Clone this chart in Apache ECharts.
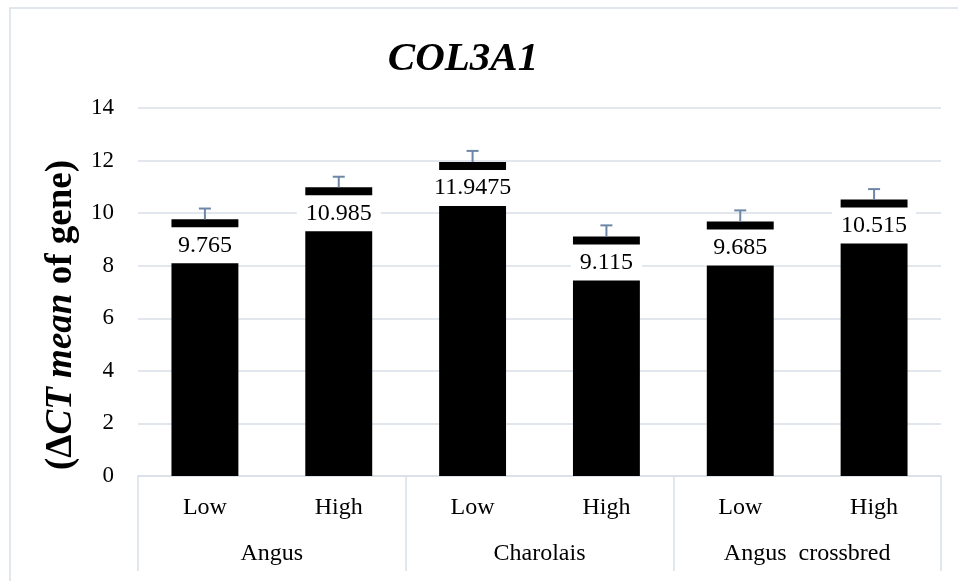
<!DOCTYPE html>
<html>
<head>
<meta charset="utf-8">
<script src="https://cdn.jsdelivr.net/npm/echarts@6/dist/echarts.min.js"></script>
<style>html,body{margin:0;padding:0;background:#fff;}#c{width:958px;height:581px;}</style>
</head>
<body>
<div id="c"></div>
<script>
var groups = ['Angus', 'Charolais', 'Angus  crossbred'];
var levels = ['Low', 'High', 'Low', 'High', 'Low', 'High'];
var means = [9.765, 10.985, 11.9475, 9.115, 9.685, 10.515];
var errors = [0.41, 0.40, 0.42, 0.42, 0.42, 0.40];
var yTicks = [0, 2, 4, 6, 8, 10, 12, 14];

var FONT = '"Liberation Serif", "Times New Roman", serif';
var GRID = '#d9dee7';
var ERR = '#6f87a6';

var chart = echarts.init(document.getElementById('c'), null, {renderer: 'canvas'});
chart.setOption({
  animation: false,
  backgroundColor: '#fff',
  graphic: [
    {type: 'rect', shape: {x: 10, y: 8, width: 980, height: 620}, style: {fill: 'none', stroke: GRID, lineWidth: 1.5}, silent: true},
    {type: 'text', x: 463, y: 59, style: {text: 'COL3A1', font: 'italic bold 41px ' + FONT, fill: '#000', textAlign: 'center', textVerticalAlign: 'middle'}}
  ],
  grid: {left: 138, right: 17, top: 108, bottom: 105, containLabel: false},
  xAxis: [
    {
      type: 'category', data: levels, position: 'bottom',
      axisLine: {show: true, lineStyle: {color: GRID, width: 1.5}},
      axisTick: {show: false},
      axisLabel: {interval: 0, margin: 20, fontFamily: FONT, fontSize: 24, lineHeight: 24, color: '#000'}
    },
    {
      type: 'category', data: groups, position: 'bottom', gridIndex: 0,
      axisLine: {show: false},
      axisTick: {show: true, length: 95, lineStyle: {color: GRID, width: 1.5}},
      axisLabel: {interval: 0, margin: 66, fontFamily: FONT, fontSize: 24, lineHeight: 24, color: '#000'}
    }
  ],
  yAxis: {
    type: 'value', min: yTicks[0], max: yTicks[yTicks.length - 1], interval: 2,
    axisLine: {show: false}, axisTick: {show: false},
    splitLine: {show: true, lineStyle: {color: GRID, width: 1.5}},
    axisLabel: {margin: 24, fontFamily: FONT, fontSize: 23, color: '#000'},
    name: '{b|(Δ}{i|CT mean}{b| of gene)}',
    nameLocation: 'middle', nameRotate: 90, nameGap: 54,
    nameTextStyle: {
      padding: [0, 46, 0, 0],
      rich: {
        b: {fontFamily: FONT, fontSize: 37, fontWeight: 'bold', color: '#000'},
        i: {fontFamily: FONT, fontSize: 37, fontWeight: 'bold', fontStyle: 'italic', color: '#000'}
      }
    }
  },
  series: [
    {
      type: 'bar', xAxisIndex: 0, data: means, barWidth: '50%',
      itemStyle: {color: '#000'},
      label: {
        show: true, position: 'insideTop', distance: 8,
        formatter: function (p) { return String(p.value); },
        fontFamily: FONT, fontSize: 24, lineHeight: 24, color: '#000',
        backgroundColor: '#fff', padding: [6, 9]
      },
      z: 2
    },
    {
      type: 'custom', xAxisIndex: 0, z: 5,
      data: means.map(function (m, i) { return [i, m, errors[i]]; }),
      renderItem: function (params, api) {
        var i = api.value(0), m = api.value(1), e = api.value(2);
        var p0 = api.coord([i, m]);
        var p1 = api.coord([i, m + e]);
        var hw = 6;
        return {
          type: 'group',
          children: [
            {type: 'line', shape: {x1: p0[0], y1: p0[1], x2: p1[0], y2: p1[1]}, style: {stroke: ERR, lineWidth: 2}},
            {type: 'line', shape: {x1: p1[0] - hw, y1: p1[1], x2: p1[0] + hw, y2: p1[1]}, style: {stroke: ERR, lineWidth: 2}}
          ]
        };
      }
    }
  ]
});
</script>
</body>
</html>
